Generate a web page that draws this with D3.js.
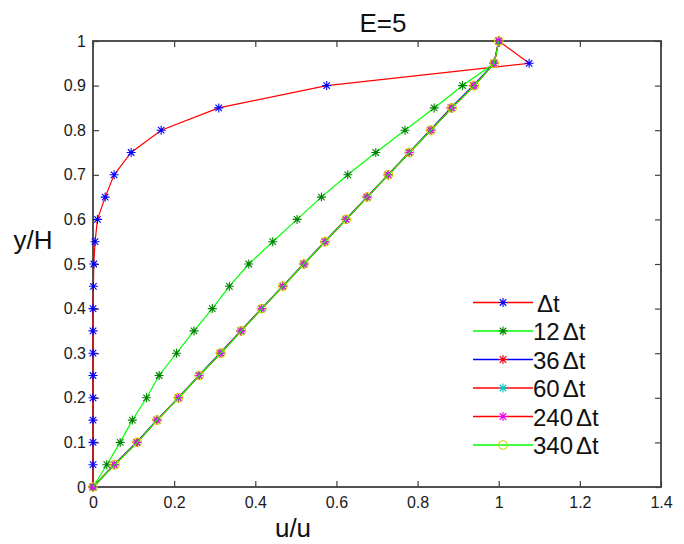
<!DOCTYPE html>
<html>
<head>
<meta charset="utf-8">
<script src="https://cdn.jsdelivr.net/npm/d3@7"></script>
<style>
  body { margin: 0; background: #fff; }
  svg { display: block; font-family: "Liberation Sans", Arial, sans-serif; }
</style>
</head>
<body>
<svg id="chart" width="684" height="544"></svg>
<script>
// values
const yLevels = [0, 0.05, 0.1, 0.15, 0.2, 0.25, 0.3, 0.35, 0.4, 0.45, 0.5, 0.55, 0.6, 0.65, 0.7, 0.75, 0.8, 0.85, 0.9, 0.95, 1]
const dt1   = [0, 0, 0, 0, 0, 0, 0, 0, 0, 0.001, 0.002, 0.005, 0.011, 0.03, 0.052, 0.094, 0.168, 0.31, 0.576, 1.075, 1]
const dt12  = [0, 0.034, 0.067, 0.097, 0.132, 0.163, 0.206, 0.249, 0.294, 0.336, 0.384, 0.443, 0.503, 0.563, 0.628, 0.697, 0.769, 0.841, 0.911, 0.989, 1]
const dt36  = [0, 0.052, 0.107, 0.157, 0.21, 0.261, 0.313, 0.364, 0.415, 0.467, 0.519, 0.571, 0.623, 0.675, 0.727, 0.779, 0.831, 0.882, 0.937, 0.988, 1]
const dt60  = [0, 0.053, 0.109, 0.158, 0.211, 0.262, 0.315, 0.365, 0.416, 0.468, 0.52, 0.572, 0.624, 0.676, 0.728, 0.78, 0.833, 0.884, 0.94, 0.989, 1]
const dt240 = [0, 0.053, 0.109, 0.158, 0.211, 0.262, 0.315, 0.365, 0.416, 0.468, 0.52, 0.572, 0.624, 0.676, 0.728, 0.78, 0.833, 0.884, 0.94, 0.989, 1]
const dt340 = [0, 0.054, 0.109, 0.158, 0.211, 0.262, 0.315, 0.366, 0.416, 0.468, 0.52, 0.572, 0.624, 0.676, 0.728, 0.78, 0.833, 0.885, 0.94, 0.989, 1]
const seriesNames = ['', '12', '36', '60', '240', '340']
const xTicks = [0, 0.2, 0.4, 0.6, 0.8, 1, 1.2, 1.4]
const yTicks = [0, 0.1, 0.2, 0.3, 0.4, 0.5, 0.6, 0.7, 0.8, 0.9, 1]

const styles = [
	{ line: '#ff0000', mark: '#0000ff', shape: 'star' },
	{ line: '#00ff00', mark: '#008000', shape: 'star' },
	{ line: '#0000ff', mark: '#ff0000', shape: 'star' },
	{ line: '#ff0000', mark: '#00cccc', shape: 'star' },
	{ line: '#ff0000', mark: '#ee00ee', shape: 'star' },
	{ line: '#00ff00', mark: '#cccc00', shape: 'circle' }
]
const allSeries = [dt1, dt12, dt36, dt60, dt240, dt340]

const box = { left: 93, right: 661, top: 41, bottom: 487 }
const svg = d3.select('#chart')

const x = d3.scaleLinear().domain([0, 1.4]).range([box.left, box.right])
const y = d3.scaleLinear().domain([0, 1]).range([box.bottom, box.top])
const fmt = d => String(+d.toFixed(1))

function star(r) {
	const k = r * 0.72
	return `M${-r},0H${r}M0,${-r}V${r}M${-k},${-k}L${k},${k}M${-k},${k}L${k},${-k}`
}

function drawMarks(g, pts, st) {
	if (st.shape === 'circle') {
		g.selectAll('circle.m').data(pts).enter().append('circle')
			.attr('class', 'm')
			.attr('cx', d => d[0]).attr('cy', d => d[1]).attr('r', 4.3)
			.attr('fill', 'none').attr('stroke', st.mark).attr('stroke-width', 1.1)
	} else {
		g.selectAll('path.m').data(pts).enter().append('path')
			.attr('class', 'm')
			.attr('transform', d => `translate(${d[0]},${d[1]})`)
			.attr('d', star(4.5))
			.attr('fill', 'none').attr('stroke', st.mark).attr('stroke-width', 1.1)
	}
}

// axes, ticks pointing inward on all four sides
const axisColor = '#404040'
const gx = svg.append('g').attr('transform', `translate(0,${box.bottom})`)
	.call(d3.axisBottom(x).tickValues(xTicks).tickFormat(fmt).tickSize(-6).tickPadding(10))
const gy = svg.append('g').attr('transform', `translate(${box.left},0)`)
	.call(d3.axisLeft(y).tickValues(yTicks).tickFormat(fmt).tickSize(-6).tickPadding(7))
const gxt = svg.append('g').attr('transform', `translate(0,${box.top})`)
	.call(d3.axisTop(x).tickValues(xTicks).tickFormat('').tickSize(-6))
const gyr = svg.append('g').attr('transform', `translate(${box.right},0)`)
	.call(d3.axisRight(y).tickValues(yTicks).tickFormat('').tickSize(-6))

;[gx, gy, gxt, gyr].forEach(g => {
	g.select('.domain').remove()
	g.selectAll('line').attr('stroke', axisColor).attr('stroke-width', 1.2)
	g.selectAll('text').attr('font-size', 16).attr('fill', '#1a1a1a')
		.attr('font-family', '"Liberation Sans", Arial, sans-serif')
})

svg.append('rect')
	.attr('x', box.left).attr('y', box.top)
	.attr('width', box.right - box.left).attr('height', box.bottom - box.top)
	.attr('fill', 'none').attr('stroke', axisColor).attr('stroke-width', 1.8)

// series
const line = d3.line()
allSeries.forEach((vals, i) => {
	const pts = vals.map((v, j) => [x(v), y(yLevels[j])])
	const g = svg.append('g')
	g.append('path').attr('d', line(pts))
		.attr('fill', 'none').attr('stroke', styles[i].line).attr('stroke-width', 1.2)
	drawMarks(g, pts, styles[i])
})

// legend (no box)
const leg = svg.append('g')
seriesNames.forEach((name, i) => {
	const ly = 302.5 + i * 28.5
	const g = leg.append('g')
	g.append('line').attr('x1', 473).attr('x2', 533).attr('y1', ly).attr('y2', ly)
		.attr('stroke', styles[i].line).attr('stroke-width', 1.4)
	drawMarks(g, [[503, ly]], styles[i])
	const t = g.append('text').attr('x', name ? 533 : 537).attr('y', ly + 9)
		.attr('font-size', 24).attr('fill', '#111')
	t.append('tspan').text(name)
	t.append('tspan').attr('dx', name ? 3 : 0).text('Δt')
})

// titles
svg.append('text').attr('x', 383).attr('y', 32).attr('text-anchor', 'middle')
	.attr('font-size', 26).attr('fill', '#111').text('E=5')
svg.append('text').attr('x', 293).attr('y', 537).attr('text-anchor', 'middle')
	.attr('font-size', 26).attr('fill', '#111').text('u/u')
svg.append('text').attr('x', 33).attr('y', 249).attr('text-anchor', 'middle')
	.attr('font-size', 26).attr('fill', '#111').text('y/H')
</script>
</body>
</html>
